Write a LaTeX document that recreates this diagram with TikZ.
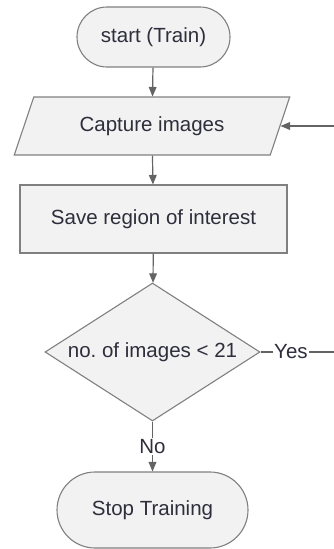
\documentclass[tikz,border=0pt]{standalone}
\usepackage{fontspec}
\setmainfont{Liberation Sans}
\usepackage{tikz}
\usetikzlibrary{shapes,arrows}

\begin{document}
\begin{tikzpicture}[x=1pt,y=-1pt,
  every node/.style={font=\fontsize{20.5}{24}\selectfont,text=txtColor},
  box/.style={draw=lineColor,fill=boxColor,line width=1.1pt,inner sep=0pt},
  term/.style={box,rounded rectangle},
  flow/.style={->,>=triangle 45,draw=arrowColor,line width=1.2pt},
  lbl/.style={fill=white,inner sep=1pt}]
\definecolor{lineColor}{RGB}{128,128,128}
\definecolor{arrowColor}{RGB}{100,100,100}
\definecolor{boxColor}{RGB}{242,242,242}
\definecolor{txtColor}{RGB}{46,46,60}
\clip (0,0) rectangle (334,549);
\node[term,minimum width=153pt,minimum height=60pt] (start) at (153.5,37) {start (Train)};
\node[box,trapezium,trapezium left angle=58,trapezium right angle=122,trapezium stretches=true,minimum width=276pt,minimum height=58pt] (capture) at (152,126) {Capture images};
\node[box,rectangle,minimum width=267pt,minimum height=68pt] (save) at (153.5,219) {Save region of interest};
\node[box,diamond,aspect=1.56,minimum width=215pt,minimum height=138pt] (count) at (152.5,352) {no.\ of images < 21};
\node[term,minimum width=191pt,minimum height=76pt] (stop) at (152.5,510) {Stop Training};
\coordinate (loop) at (345,352);
\draw[flow] (start) -- (capture);
\draw[flow] (capture) -- (save);
\draw[flow] (save) -- (count);
\draw[flow] (count) -- node[lbl] {No} (stop);
\draw[flow] (count.east) -- node[lbl,pos=0.36] {Yes} (loop) |- (capture.east);
\end{tikzpicture}
\end{document}
